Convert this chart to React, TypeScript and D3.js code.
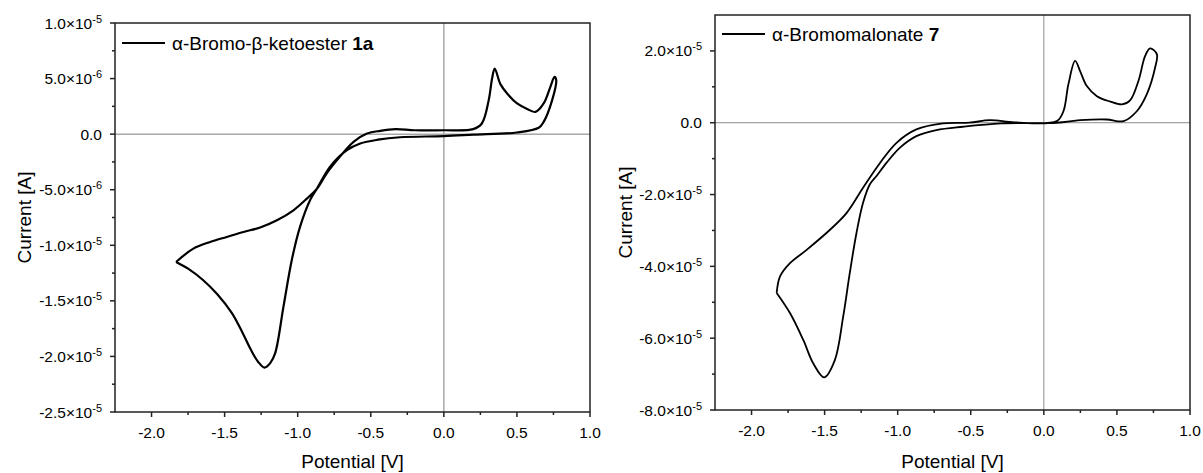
import React from "react";
import * as d3 from "d3";

// ---------- data ----------
// Left panel: α-Bromo-β-ketoester 1a (current in µA, potential in V)
const leftPotential = [
  -1.832, -1.714, -1.599, -1.485, -1.371, -1.257, -1.142, -1.029, -0.937, -0.868,
  -0.8, -0.709, -0.618, -0.526, -0.435, -0.33, -0.2, 0.0, 0.2, 0.26,
  0.307, 0.33, 0.348, 0.387, 0.433, 0.501, 0.58, 0.627, 0.683, 0.729,
  0.757, 0.769, 0.741, 0.683, 0.649, 0.5, 0.2, 0.0, -0.3, -0.45,
  -0.572, -0.663, -0.777, -0.868, -0.914, -0.983, -1.04, -1.097, -1.154, -1.188,
  -1.227, -1.27, -1.32, -1.38, -1.45, -1.55, -1.65, -1.75, -1.832,
];
const leftCurrentMicroA = [
  -11.5, -10.3, -9.7, -9.25, -8.8, -8.4, -7.75, -6.85, -5.8, -4.9,
  -3.5, -2.0, -0.7, 0.05, 0.3, 0.45, 0.35, 0.35, 0.45, 0.96,
  3.06, 5.0, 5.9, 4.5, 3.66, 2.76, 2.2, 2.0, 2.76, 4.26,
  5.16, 4.86, 3.06, 1.1, 0.57, 0.15, -0.05, -0.18, -0.28, -0.5,
  -0.84, -1.44, -2.9, -4.9, -5.9, -8.3, -11.3, -15.5, -19.7, -20.6,
  -21.0, -20.5, -19.4, -17.8, -16.1, -14.4, -13.1, -12.1, -11.5,
];

// Right panel: α-Bromomalonate 7 (current in µA, potential in V)
const rightPotential = [
  -1.828, -1.805, -1.737, -1.623, -1.463, -1.349, -1.237, -1.121, -1.008, -0.872,
  -0.69, -0.51, -0.368, -0.2, 0.088, 0.134, 0.168, 0.214, 0.248, 0.294,
  0.363, 0.454, 0.534, 0.59, 0.647, 0.693, 0.727, 0.773, 0.761, 0.704,
  0.636, 0.545, 0.43, 0.248, 0.088, -0.29, -0.553, -0.736, -0.872, -0.986,
  -1.077, -1.146, -1.191, -1.237, -1.282, -1.328, -1.373, -1.43, -1.503, -1.578,
  -1.646, -1.737, -1.828,
];
const rightCurrentMicroA = [
  -47.4, -42.8, -39.1, -35.4, -29.8, -25.1, -18.1, -11.2, -5.6, -1.87,
  -0.2, 0.0, 0.7, 0.1, 0.45, 3.2, 10.7, 17.2, 14.4, 10.2,
  7.4, 5.9, 5.1, 6.2, 11.6, 18.6, 20.7, 19.1, 15.3, 7.9,
  3.2, 0.45, 0.9, 0.7, 0.0, -0.2, -1.12, -2.06, -3.74, -7.0,
  -11.2, -14.9, -17.2, -22.3, -30.7, -41.9, -54.0, -66.1, -70.9, -67.0,
  -60.5, -53.0, -47.4,
];

const xTicks = [-2.0, -1.5, -1.0, -0.5, 0.0, 0.5, 1.0];
const xMinorTicks = [-1.75, -1.25, -0.75, -0.25, 0.25, 0.75];
const leftYTicks = [-2.5e-5, -2.0e-5, -1.5e-5, -1.0e-5, -5.0e-6, 0, 5.0e-6, 1.0e-5];
const leftYMinorTicks = [-2.25e-5, -1.75e-5, -1.25e-5, -7.5e-6, -2.5e-6, 2.5e-6, 7.5e-6];
const rightYTicks = [-8.0e-5, -6.0e-5, -4.0e-5, -2.0e-5, 0, 2.0e-5];
const rightYMinorTicks = [-7.0e-5, -5.0e-5, -3.0e-5, -1.0e-5, 1.0e-5];

const FONT = "'Liberation Sans', Arial, Helvetica, sans-serif";

function sciLabel(v: number) {
  if (v === 0) return { main: "0.0", exp: "" };
  const e = Math.floor(Math.log10(Math.abs(v)) + 1e-9);
  const m = v / Math.pow(10, e);
  return { main: `${(Math.round(m * 10) / 10).toFixed(1)}×10`, exp: `${e}` };
}

type PanelProps = {
  left: number;
  right: number;
  top: number;
  bottom: number;
  yDomain: [number, number];
  yTicks: number[];
  yMinor: number[];
  potential: number[];
  current: number[];
  legendName: string;
  legendBold: string;
  legendY: number;
  yTitleX: number;
  zeroColor: string;
  zeroWidth: number;
  curveWidth: number;
};

function Panel(p: PanelProps) {
  const x = d3.scaleLinear().domain([-2.25, 1.0]).range([p.left, p.right]);
  const y = d3.scaleLinear().domain(p.yDomain).range([p.bottom, p.top]);
  const pts = p.potential.map((v, i) => [v, p.current[i] * 1e-6] as [number, number]);
  const line = d3
    .line<[number, number]>()
    .x((d) => x(d[0]))
    .y((d) => y(d[1]))
    .curve(d3.curveCatmullRom.alpha(0.5));
  const cx = (p.left + p.right) / 2;
  const cy = (p.top + p.bottom) / 2;
  return (
    <g fontFamily={FONT} fill="#000">
      {/* zero lines */}
      <line x1={x(0)} x2={x(0)} y1={p.top} y2={p.bottom} stroke={p.zeroColor} strokeWidth={p.zeroWidth} />
      <line x1={p.left} x2={p.right} y1={y(0)} y2={y(0)} stroke={p.zeroColor} strokeWidth={p.zeroWidth} />
      {/* curve */}
      <path d={line(pts) || ""} fill="none" stroke="#000" strokeWidth={p.curveWidth} strokeLinejoin="round" />
      {/* frame */}
      <rect x={p.left} y={p.top} width={p.right - p.left} height={p.bottom - p.top} fill="none" stroke="#222" strokeWidth={1.5} />
      {/* x ticks */}
      {xTicks.map((t) => (
        <g key={"xt" + t}>
          <line x1={x(t)} x2={x(t)} y1={p.bottom} y2={p.bottom + 5} stroke="#222" strokeWidth={1.5} />
          <text x={x(t)} y={p.bottom + 26} fontSize={15.5} textAnchor="middle">
            {t.toFixed(1)}
          </text>
        </g>
      ))}
      {xMinorTicks.map((t) => (
        <line key={"xm" + t} x1={x(t)} x2={x(t)} y1={p.bottom} y2={p.bottom + 3} stroke="#222" strokeWidth={1.5} />
      ))}
      {/* y ticks */}
      {p.yTicks.map((t) => {
        const lab = sciLabel(t);
        return (
          <g key={"yt" + t}>
            <line x1={p.left - 5} x2={p.left} y1={y(t)} y2={y(t)} stroke="#222" strokeWidth={1.5} />
            <text x={p.left - 13} y={y(t) + 5.5} fontSize={15.5} textAnchor="end">
              <tspan>{lab.main}</tspan>
              {lab.exp && (
                <tspan dy={-6} fontSize={11}>
                  {lab.exp}
                </tspan>
              )}
            </text>
          </g>
        );
      })}
      {p.yMinor.map((t) => (
        <line key={"ym" + t} x1={p.left - 3} x2={p.left} y1={y(t)} y2={y(t)} stroke="#222" strokeWidth={1.5} />
      ))}
      {/* axis titles */}
      <text x={cx} y={468} fontSize={19} textAnchor="middle">
        Potential [V]
      </text>
      <text
        transform={`translate(${p.yTitleX},${cy}) rotate(-90)`}
        fontSize={19}
        textAnchor="middle"
      >
        Current [A]
      </text>
      {/* legend */}
      <line x1={p.left + 7} x2={p.left + 50} y1={p.legendY} y2={p.legendY} stroke="#000" strokeWidth={2} />
      <text x={p.left + 57} y={p.legendY + 7} fontSize={19}>
        {p.legendName}
        <tspan fontWeight="bold">{p.legendBold}</tspan>
      </text>
    </g>
  );
}

export default function App() {
  return (
    <div style={{ position: "absolute", left: 0, top: 0 }}>
      <svg width={1203} height={473} style={{ display: "block", background: "#fff" }}>
        <Panel
          left={115}
          right={590}
          top={23}
          bottom={412}
          yDomain={[-2.5e-5, 1.0e-5]}
          yTicks={leftYTicks}
          yMinor={leftYMinorTicks}
          potential={leftPotential}
          current={leftCurrentMicroA}
          legendName="α-Bromo-β-ketoester "
          legendBold="1a"
          legendY={43}
          yTitleX={31}
          zeroColor="#a8a8a8"
          zeroWidth={1.5}
          curveWidth={2.2}
        />
        <Panel
          left={715}
          right={1190}
          top={15}
          bottom={410}
          yDomain={[-8.0e-5, 3.0e-5]}
          yTicks={rightYTicks}
          yMinor={rightYMinorTicks}
          potential={rightPotential}
          current={rightCurrentMicroA}
          legendName="α-Bromomalonate "
          legendBold="7"
          legendY={34}
          yTitleX={632}
          zeroColor="#8c8c8c"
          zeroWidth={1}
          curveWidth={1.8}
        />
      </svg>
    </div>
  );
}
